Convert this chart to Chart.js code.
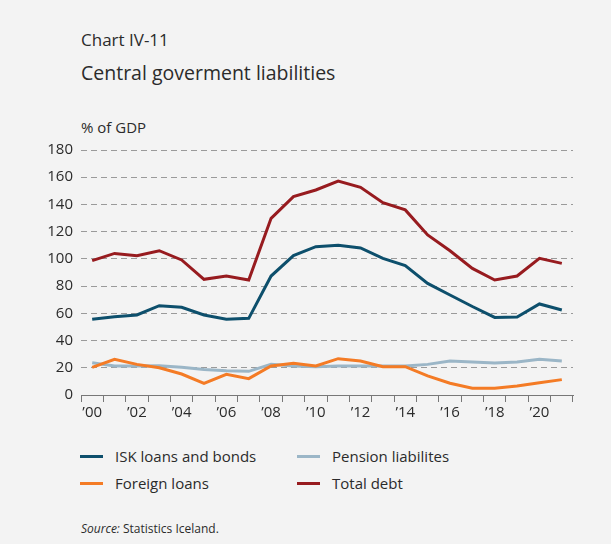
<!DOCTYPE html>
<html lang="en">
<head>
    <meta charset="UTF-8">
    <title>Central goverment liabilities</title>
    <script src="https://cdn.jsdelivr.net/npm/chart.js"></script>
    <style>
        html, body { margin: 0; padding: 0; }
        body { width: 611px; height: 544px; background: #f3f3f3; font-family: 'Open Sans', sans-serif; color: #2b2b2b; position: relative; overflow: hidden; }
        .chartNo { position: absolute; left: 81px; top: 28px; font-size: 17px; }
        .title { position: absolute; left: 81px; top: 59px; font-size: 19.5px; }
        .unit { position: absolute; left: 81px; top: 117px; font-size: 15px; }
        #wrap { position: absolute; left: 0; top: 133px; width: 611px; height: 297px; }
        .legend { position: absolute; top: 446px; left: 80px; font-size: 15px; }
        .legend div { position: absolute; white-space: nowrap; display: flex; align-items: center; }
        .legend span { display: inline-block; width: 23px; height: 3px; margin-right: 12px; }
        .source { position: absolute; left: 81px; top: 520px; font-size: 12px; }
    </style>
</head>
<body>
    <div class="chartNo">Chart IV-11</div>
    <div class="title">Central goverment liabilities</div>
    <div class="unit">% of GDP</div>
    <div id="wrap"><canvas id="chart"></canvas></div>
    <div class="legend" id="legend"></div>
    <div class="source"><i>Source:</i> Statistics Iceland.</div>

    <script>
        const years = ['’00','’01','’02','’03','’04','’05','’06','’07','’08','’09','’10',
                       '’11','’12','’13','’14','’15','’16','’17','’18','’19','’20','’21'];
        const iskLoans =   [55.6, 57.5, 58.8, 65.6, 64.4, 58.8, 55.6, 56.3, 87.4, 102.4, 109, 110, 108, 100.4, 95, 82, 73.5, 65, 57, 57.3, 66.9, 62.5];
        const foreignLoans = [20.3, 26.2, 22.5, 20, 15.4, 8.6, 15.2, 12, 21.3, 23.3, 21.3, 26.7, 25, 20.8, 20.8, 14, 8.6, 4.9, 4.9, 6.6, 9, 11.3];
        const pension =    [23.7, 21.3, 21.3, 21.5, 20.3, 18.8, 17.9, 17.4, 22.5, 21.3, 20.8, 21.3, 21.3, 21.3, 21.3, 22.5, 25, 24.3, 23.5, 24.3, 26.2, 25];
        const totalDebt =  [98.7, 104, 102.4, 106, 99.2, 85, 87.4, 84.5, 129.8, 145.7, 150.6, 157.2, 152.6, 141.3, 136, 117.6, 106, 93, 84.5, 87.4, 100.4, 96.7];

        const series = [
            { label: 'ISK loans and bonds', data: iskLoans, color: '#0d4f6c' },
            { label: 'Foreign loans', data: foreignLoans, color: '#f47b25' },
            { label: 'Pension liabilites', data: pension, color: '#9bb6c7' },
            { label: 'Total debt', data: totalDebt, color: '#971b1f' }
        ];

        // legend in two columns: ISK/Pension on top, Foreign/Total below
        const legendPos = [[0, 0], [0, 27], [217, 0], [217, 27]];
        const legend = document.getElementById('legend');
        series.forEach((s, i) => {
            legend.innerHTML += `<div style="left:${legendPos[i][0]}px;top:${legendPos[i][1]}px"><span style="background:${s.color}"></span>${s.label}</div>`;
        });

        Chart.defaults.font.family = "'Open Sans', sans-serif";
        Chart.defaults.font.size = 15;
        Chart.defaults.color = '#2b2b2b';

        new Chart(document.getElementById('chart'), {
            type: 'line',
            data: {
                labels: years,
                datasets: series.map(s => ({
                    label: s.label,
                    data: s.data,
                    borderColor: s.color,
                    backgroundColor: s.color,
                    borderWidth: 3,
                    pointRadius: 0,
                    tension: 0
                }))
            },
            options: {
                responsive: true,
                maintainAspectRatio: false,
                animation: false,
                layout: { padding: { left: 0, right: 38, top: 3, bottom: 0 } },
                plugins: { legend: { display: false }, tooltip: { enabled: false } },
                scales: {
                    x: {
                        offset: true,
                        afterFit: s => { s.height = 35; },
                        grid: { offset: true, drawOnChartArea: false, drawTicks: true, tickLength: 7, color: '#777' },
                        border: { display: true, color: '#777', width: 1 },
                        ticks: {
                            autoSkip: false, maxRotation: 0, padding: 2,
                            callback: function (v, i) { return i % 2 === 0 ? this.getLabelForValue(v) : ''; }
                        }
                    },
                    y: {
                        min: 0, max: 180,
                        afterFit: s => { s.width = 81; },
                        ticks: { stepSize: 20, padding: 8 },
                        border: { display: false, dash: [6, 4] },
                        grid: {
                            drawTicks: false,
                            color: c => c.tick.value === 0 ? 'rgba(0,0,0,0)' : '#9a9a9a',
                            lineWidth: 1
                        }
                    }
                }
            }
        });
    </script>
</body>
</html>
